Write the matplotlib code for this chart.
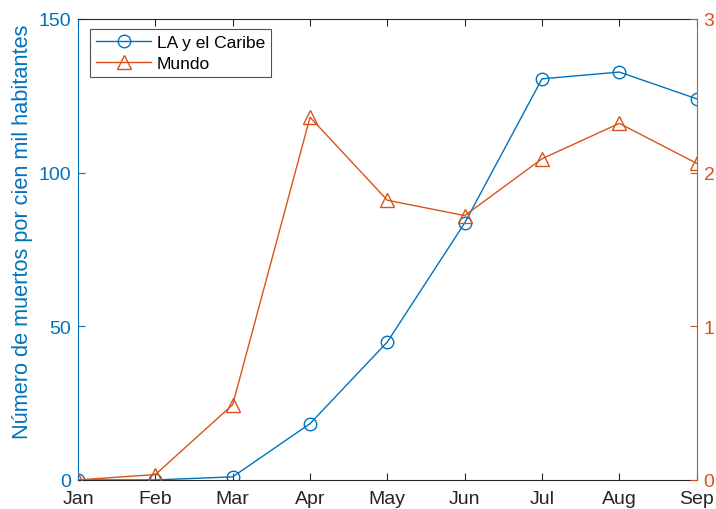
import matplotlib
matplotlib.use("Agg")
import matplotlib.pyplot as plt

plt.rcParams['font.family'] = ['Liberation Sans', 'DejaVu Sans']

months = ['Jan', 'Feb', 'Mar', 'Apr', 'May', 'Jun', 'Jul', 'Aug', 'Sep']
la_caribe = [0, 0, 1.0, 18.3, 44.9, 83.6, 130.5, 132.7, 124.0]
mundo = [0, 0.035, 0.49, 2.36, 1.82, 1.72, 2.09, 2.32, 2.06]

blue = '#0072BD'
orange = '#D95319'
x = list(range(len(months)))

fig = plt.figure(figsize=(7.16, 5.10), dpi=100)
ax = fig.add_axes([0.109, 0.057, 0.864, 0.904])
ax2 = ax.twinx()

l1, = ax.plot(x, la_caribe, '-o', color=blue, lw=1.0, ms=9, mfc='none', mew=1.0,
              label='LA y el Caribe')
l2, = ax2.plot(x, mundo, '-^', color=orange, lw=1.0, ms=10, mfc='none', mew=1.0,
               label='Mundo')

ax.set_xlim(0, 8)
ax.set_ylim(0, 150)
ax2.set_ylim(0, 3)
ax.set_xticks(x)
ax.set_xticklabels(months)
ax.set_yticks([0, 50, 100, 150])
ax2.set_yticks([0, 1, 2, 3])

ax.set_ylabel('Número de muertos por cien mil habitantes', color=blue, fontsize=15.7)
ax.yaxis.set_label_coords(-0.073, 0.54)

for a in (ax, ax2):
    for s in a.spines.values():
        s.set_linewidth(0.8)
ax.spines['left'].set_color(blue)
ax.spines['right'].set_visible(False)
ax.spines['top'].set_color('#262626')
ax.spines['bottom'].set_color('#262626')
ax2.spines['right'].set_color(orange)
ax2.spines['left'].set_visible(False)
ax2.spines['top'].set_visible(False)
ax2.spines['bottom'].set_visible(False)

ax.tick_params(axis='x', direction='in', top=True, length=5, colors='#262626',
               labelsize=14, pad=7)
ax.tick_params(axis='y', direction='in', length=5, colors=blue, labelsize=14, pad=5)
ax2.tick_params(axis='y', direction='in', length=5, colors=orange, labelsize=14, pad=5)

leg = ax.legend(handles=[l1, l2], loc='upper left', bbox_to_anchor=(0.019, 0.978),
                fontsize=12.5, frameon=True, fancybox=False, edgecolor='#262626',
                borderpad=0.35, handlelength=3.2, labelspacing=0.3, handletextpad=0.3,
                borderaxespad=0)
leg.get_frame().set_linewidth(0.8)

fig.savefig('out.png', dpi=100)
